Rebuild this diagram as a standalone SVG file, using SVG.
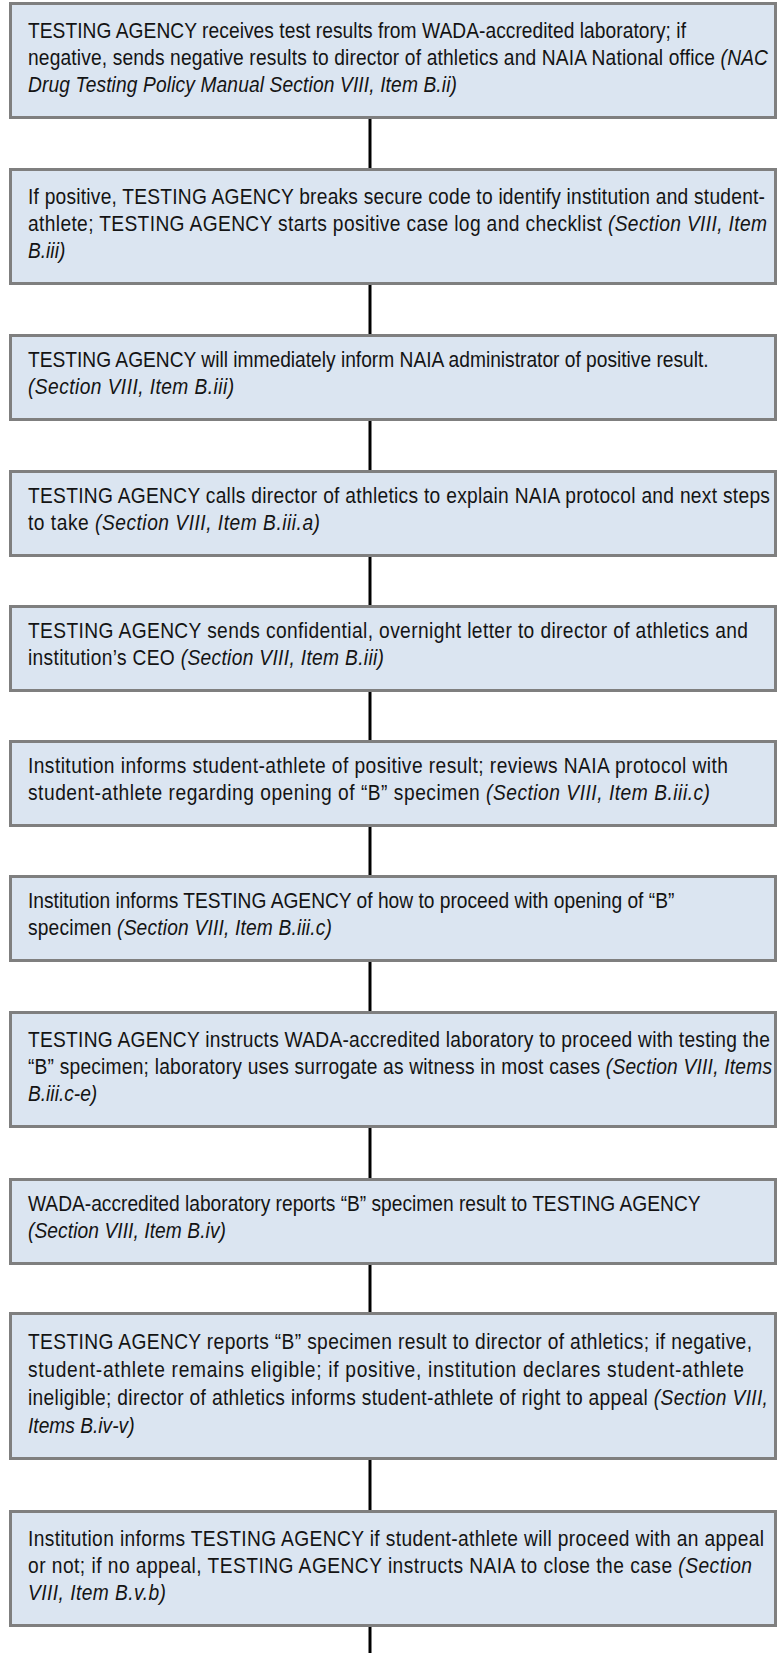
<svg xmlns="http://www.w3.org/2000/svg" width="777" height="1653" viewBox="0 0 777 1653">
<style>
.box{fill:#DBE5F1;stroke:#7F7F7F;stroke-width:3}
.t{font-family:"Liberation Sans",Arial,sans-serif;font-size:22px;fill:#141414}
.i{font-style:italic}
.c{stroke:#000;stroke-width:3;fill:none}
</style>
<rect width="777" height="1653" fill="#fff"/>
<g id="connectors">
<line class="c" x1="370" y1="117" x2="370" y2="169"/>
<line class="c" x1="370" y1="283" x2="370" y2="335"/>
<line class="c" x1="370" y1="419" x2="370" y2="471"/>
<line class="c" x1="370" y1="555" x2="370" y2="606"/>
<line class="c" x1="370" y1="690" x2="370" y2="741"/>
<line class="c" x1="370" y1="825" x2="370" y2="876"/>
<line class="c" x1="370" y1="960" x2="370" y2="1012"/>
<line class="c" x1="370" y1="1126" x2="370" y2="1179"/>
<line class="c" x1="370" y1="1263" x2="370" y2="1313"/>
<line class="c" x1="370" y1="1458" x2="370" y2="1511"/>
<line class="c" x1="370" y1="1625" x2="370" y2="1653"/>
</g>
<g id="n1">
<rect class="box" x="10.5" y="3.5" width="765" height="114"/>
<g transform="scale(0.8727,1)">
<text class="t" x="32.08" y="38" textLength="754">TESTING AGENCY receives test results from WADA-accredited laboratory; if</text>
<text class="t" x="32.08" y="65" textLength="847.9">negative, sends negative results to director of athletics and NAIA National office <tspan class="i">(NAC</tspan></text>
<text class="t i" x="32.08" y="92" textLength="491.6">Drug Testing Policy Manual Section VIII, Item B.ii)</text>
</g>
</g>
<g id="n2">
<rect class="box" x="10.5" y="169.5" width="765" height="114"/>
<g transform="scale(0.8727,1)">
<text class="t" x="32.08" y="204" textLength="844.5">If positive, TESTING AGENCY breaks secure code to identify institution and student-</text>
<text class="t" x="32.08" y="231" textLength="846.8">athlete; TESTING AGENCY starts positive case log and checklist <tspan class="i">(Section VIII, Item</tspan></text>
<text class="t i" x="32.08" y="258">B.iii)</text>
</g>
</g>
<g id="n3">
<rect class="box" x="10.5" y="335.5" width="765" height="84"/>
<g transform="scale(0.8727,1)">
<text class="t" x="32.08" y="367">TESTING AGENCY will immediately inform NAIA administrator of positive result.</text>
<text class="t i" x="32.08" y="394" textLength="236.1">(Section VIII, Item B.iii)</text>
</g>
</g>
<g id="n4">
<rect class="box" x="10.5" y="471.5" width="765" height="84"/>
<g transform="scale(0.8727,1)">
<text class="t" x="32.08" y="503" textLength="850.2">TESTING AGENCY calls director of athletics to explain NAIA protocol and next steps</text>
<text class="t" x="32.08" y="530" textLength="334.6">to take <tspan class="i">(Section VIII, Item B.iii.a)</tspan></text>
</g>
</g>
<g id="n5">
<rect class="box" x="10.5" y="606.5" width="765" height="84"/>
<g transform="scale(0.8727,1)">
<text class="t" x="32.08" y="638" textLength="825">TESTING AGENCY sends confidential, overnight letter to director of athletics and</text>
<text class="t" x="32.08" y="665" textLength="407.9">institution’s CEO <tspan class="i">(Section VIII, Item B.iii)</tspan></text>
</g>
</g>
<g id="n6">
<rect class="box" x="10.5" y="741.5" width="765" height="84"/>
<g transform="scale(0.8727,1)">
<text class="t" x="32.08" y="773" textLength="802.1">Institution informs student-athlete of positive result; reviews NAIA protocol with</text>
<text class="t" x="32.08" y="800" textLength="781.5">student-athlete regarding opening of “B” specimen <tspan class="i">(Section VIII, Item B.iii.c)</tspan></text>
</g>
</g>
<g id="n7">
<rect class="box" x="10.5" y="876.5" width="765" height="84"/>
<g transform="scale(0.8727,1)">
<text class="t" x="32.08" y="908">Institution informs TESTING AGENCY of how to proceed with opening of “B”</text>
<text class="t" x="32.08" y="935" textLength="348.3">specimen <tspan class="i">(Section VIII, Item B.iii.c)</tspan></text>
</g>
</g>
<g id="n8">
<rect class="box" x="10.5" y="1012.5" width="765" height="114"/>
<g transform="scale(0.8727,1)">
<text class="t" x="32.08" y="1047" textLength="850.2">TESTING AGENCY instructs WADA-accredited laboratory to proceed with testing the</text>
<text class="t" x="32.08" y="1074" textLength="852.5">“B” specimen; laboratory uses surrogate as witness in most cases <tspan class="i">(Section VIII, Items</tspan></text>
<text class="t i" x="32.08" y="1101">B.iii.c-e)</text>
</g>
</g>
<g id="n9">
<rect class="box" x="10.5" y="1179.5" width="765" height="84"/>
<g transform="scale(0.8727,1)">
<text class="t" x="32.08" y="1211">WADA-accredited laboratory reports “B” specimen result to TESTING AGENCY</text>
<text class="t i" x="32.08" y="1238" textLength="226.9">(Section VIII, Item B.iv)</text>
</g>
</g>
<g id="n10">
<rect class="box" x="10.5" y="1313.5" width="765" height="145"/>
<g transform="scale(0.8727,1)">
<text class="t" x="32.08" y="1349" textLength="829.6">TESTING AGENCY reports “B” specimen result to director of athletics; if negative,</text>
<text class="t" x="32.08" y="1377" textLength="820.4">student-athlete remains eligible; if positive, institution declares student-athlete</text>
<text class="t" x="32.08" y="1405" textLength="847.9">ineligible; director of athletics informs student-athlete of right to appeal <tspan class="i">(Section VIII,</tspan></text>
<text class="t i" x="32.08" y="1433">Items B.iv-v)</text>
</g>
</g>
<g id="n11">
<rect class="box" x="10.5" y="1511.5" width="765" height="114"/>
<g transform="scale(0.8727,1)">
<text class="t" x="32.08" y="1546" textLength="843.4">Institution informs TESTING AGENCY if student-athlete will proceed with an appeal</text>
<text class="t" x="32.08" y="1573" textLength="829.6">or not; if no appeal, TESTING AGENCY instructs NAIA to close the case <tspan class="i">(Section</tspan></text>
<text class="t i" x="32.08" y="1600" textLength="158.1">VIII, Item B.v.b)</text>
</g>
</g>
</svg>
